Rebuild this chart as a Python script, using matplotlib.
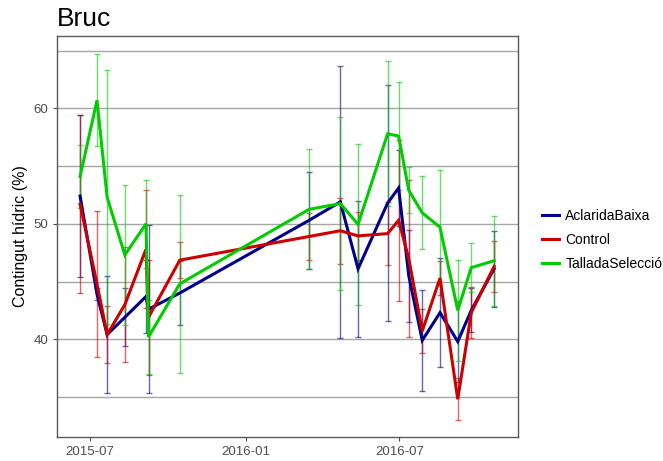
import matplotlib
matplotlib.use("Agg")
import matplotlib.pyplot as plt
import matplotlib.dates as mdates
import numpy as np
import pandas as pd

plt.rcParams['font.family'] = ['Liberation Sans', 'DejaVu Sans']

dates = pd.to_datetime([
    "2015-06-19", "2015-07-09", "2015-07-21", "2015-08-11", "2015-09-05",
    "2015-09-08", "2015-10-15", "2016-03-16", "2016-04-22", "2016-05-13",
    "2016-06-17", "2016-06-30", "2016-07-12", "2016-07-28", "2016-08-18",
    "2016-09-08", "2016-09-24", "2016-10-21"])

series_names = ["AclaridaBaixa", "Control", "TalladaSelecció"]

aclarida_mean = [52.4, 43.9, 40.4, 41.9, 43.7, 42.6, 44.0, 50.3, 51.9, 46.1,
                 51.8, 53.1, 45.5, 39.9, 42.3, 39.8, 42.5, 46.1]
aclarida_err = [7.0, 0.5, 5.1, 2.5, 3.2, 7.3, 2.8, 4.2, 11.8, 5.9,
                10.2, 3.3, 4.0, 4.4, 4.7, 3.5, 1.9, 3.3]

control_mean = [51.7, 44.8, 40.4, 43.0, 47.8, 41.9, 46.85, 48.9, 49.4, 48.95,
                49.15, 50.3, 47.0, 40.7, 45.3, 34.8, 42.3, 46.3]
control_err = [7.7, 6.3, 2.5, 5.0, 5.1, 5.0, 1.55, 2.05, 2.85, 2.1,
               2.75, 7.0, 6.8, 1.9, 1.5, 1.8, 2.2, 2.2]

tallada_mean = [54.1, 60.7, 52.3, 47.3, 50.0, 40.2, 44.8, 51.25, 51.75, 49.95,
                57.8, 57.6, 52.9, 50.95, 49.7, 42.5, 46.2, 46.8]
tallada_err = [2.7, 4.0, 11.0, 6.1, 3.8, 3.2, 7.7, 5.2, 7.5, 7.0,
               6.3, 4.7, 2.0, 3.15, 5.0, 4.4, 2.1, 3.9]

colors = ["#00008B", "#CC0000", "#00CD00"]
means = [aclarida_mean, control_mean, tallada_mean]
errs = [aclarida_err, control_err, tallada_err]

x_ticks = pd.to_datetime(["2015-07-01", "2016-01-01", "2016-07-01"])
y_major = [40, 50, 60]
y_grid = [35, 40, 45, 50, 55, 60, 65]

fig = plt.figure(figsize=(6.63, 4.61), dpi=100)
ax = fig.add_axes([0.0864, 0.0514, 0.6945, 0.8712])

for yv in y_grid:
    ax.axhline(yv, color="#a6a6a6", lw=1.0, zorder=0)

for m, e, c in zip(means, errs, colors):
    ax.errorbar(dates, m, yerr=e, fmt="none", ecolor=c, elinewidth=1.0,
                capsize=2.5, capthick=1.0, alpha=0.6, zorder=2)

handles = []
for m, c, n in zip(means, colors, series_names):
    h, = ax.plot(dates, m, color=c, lw=2.2, zorder=3, label=n,
                 solid_joinstyle="miter")
    handles.append(h)

ax.set_xlim(pd.Timestamp("2015-05-23"), pd.Timestamp("2016-11-18"))
ax.set_ylim(31.5, 66.3)
ax.set_xticks(x_ticks)
ax.xaxis.set_major_formatter(mdates.DateFormatter("%Y-%m"))
ax.set_yticks(y_major)
ax.tick_params(axis="both", colors="#4d4d4d", labelsize=9.5, length=3,
               width=0.8)
for lab in ax.get_xticklabels() + ax.get_yticklabels():
    lab.set_color("#4d4d4d")
for s in ax.spines.values():
    s.set_color("#595959")
    s.set_linewidth(1.0)

ax.set_ylabel("Contingut hídric (%)", fontsize=11.5, color="black", labelpad=4)
ax.set_title("Bruc", loc="left", fontsize=19, pad=7)

fig.legend(handles=handles, labels=series_names, loc="center left",
           bbox_to_anchor=(0.817, 0.479), frameon=False, fontsize=10,
           handlelength=1.25, handletextpad=0.45, labelspacing=0.72,
           borderaxespad=0, borderpad=0)

fig.savefig("out.png", dpi=100)
